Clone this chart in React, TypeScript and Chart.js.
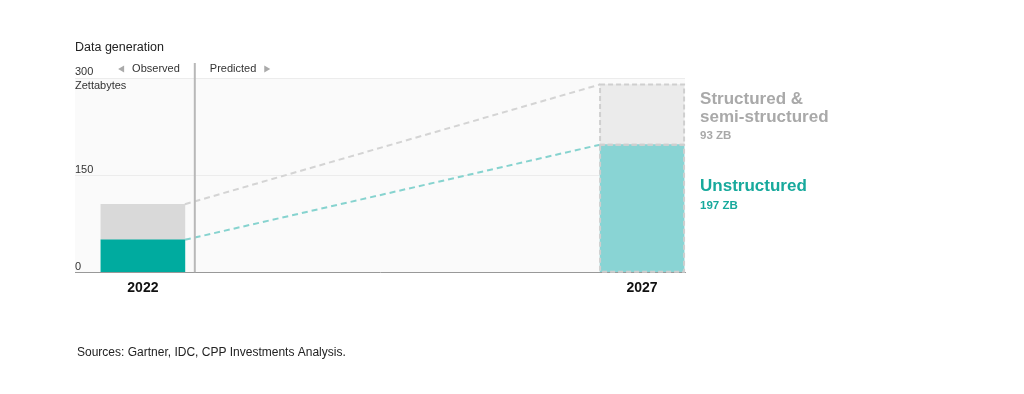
import React, { useEffect, useRef } from "react";
import { Chart, registerables } from "chart.js";

Chart.register(...registerables);

// ---- data ----
const years = [2022, 2027];
const unstructured = [50, 197];
const structured = [55, 93];
const yTickValues = [0, 150, 300];
const yUnit = "Zettabytes";
const dividerYear = 2022.52;
const titleText = "Data generation";
const sourceText = "Sources: Gartner, IDC, CPP Investments Analysis.";
const observedLabel = "Observed";
const predictedLabel = "Predicted";
const structuredName = ["Structured &", "semi-structured"];
const unstructuredName = ["Unstructured"];
const structuredValueLabel = "93 ZB";
const unstructuredValueLabel = "197 ZB";

// ---- styles ----
const FONT = "'Liberation Sans', Arial, Helvetica, sans-serif";
const tealColors = ["#00ab9f", "#89d4d4"];
const greyColors = ["#d9d9d9", "#ebebeb"];
const tealText = "#17a99c";
const greyText = "#a9a9a9";

const annotPlugin = {
  id: "annot",
  beforeDraw(chart: any) {
    const { ctx, chartArea: a } = chart;
    ctx.save();
    ctx.fillStyle = "#fafafa";
    ctx.fillRect(a.left, a.top, a.right - a.left, a.bottom - a.top);
    ctx.restore();
  },
  afterDatasetsDraw(chart: any) {
    const { ctx, chartArea: a, scales } = chart;
    const xs = scales.x;
    const ys = scales.y;
    const m0 = chart.getDatasetMeta(0);
    const m1 = chart.getDatasetMeta(1);
    ctx.save();
    // connectors
    const conns: [any, string][] = [
      [m0, "#86d3cf"],
      [m1, "#d4d4d4"],
    ];
    conns.forEach(([m, c]) => {
      const p = m.data[0].getProps(["x", "y", "width"], true);
      const q = m.data[1].getProps(["x", "y", "width"], true);
      ctx.beginPath();
      ctx.setLineDash([6, 4]);
      ctx.lineWidth = 2;
      ctx.strokeStyle = c;
      ctx.moveTo(p.x + p.width / 2, p.y);
      ctx.lineTo(q.x - q.width / 2, q.y);
      ctx.stroke();
    });
    // dashed outlines of predicted bars
    [m0, m1].forEach((m) => {
      const e = m.data[1].getProps(["x", "y", "width", "base"], true);
      ctx.beginPath();
      ctx.setLineDash([5, 3]);
      ctx.lineWidth = 2;
      ctx.strokeStyle = "#cfcfcf";
      ctx.strokeRect(e.x - e.width / 2, e.y, e.width, e.base - e.y);
    });
    ctx.setLineDash([]);
    // divider
    const dx = xs.getPixelForValue(dividerYear);
    ctx.beginPath();
    ctx.lineWidth = 2;
    ctx.strokeStyle = "#b8b8b8";
    ctx.moveTo(dx, a.top - 15);
    ctx.lineTo(dx, a.bottom);
    ctx.stroke();
    // observed / predicted
    const ly = a.top - 9;
    ctx.font = `11px ${FONT}`;
    ctx.textBaseline = "middle";
    ctx.fillStyle = "#333";
    ctx.textAlign = "right";
    const obsRight = dx - 15;
    ctx.fillText(observedLabel, obsRight, ly);
    const obsW = ctx.measureText(observedLabel).width;
    ctx.fillStyle = "#aaa";
    let tx = obsRight - obsW - 8;
    ctx.beginPath();
    ctx.moveTo(tx, ly - 3.5);
    ctx.lineTo(tx, ly + 3.5);
    ctx.lineTo(tx - 6, ly);
    ctx.closePath();
    ctx.fill();
    ctx.textAlign = "left";
    ctx.fillStyle = "#333";
    const predLeft = dx + 15;
    ctx.fillText(predictedLabel, predLeft, ly);
    const predW = ctx.measureText(predictedLabel).width;
    ctx.fillStyle = "#aaa";
    tx = predLeft + predW + 8;
    ctx.beginPath();
    ctx.moveTo(tx, ly - 3.5);
    ctx.lineTo(tx, ly + 3.5);
    ctx.lineTo(tx + 6, ly);
    ctx.closePath();
    ctx.fill();

    // series labels at the right of the predicted bar
    const last = years.length - 1;
    const eS = m1.data[last].getProps(["x", "y", "width"], true);
    const lx = eS.x + eS.width / 2 + 16;
    ctx.textAlign = "left";
    ctx.fillStyle = greyText;
    ctx.font = `bold 17px ${FONT}`;
    const sTop = ys.getPixelForValue(unstructured[last] + structured[last]);
    structuredName.forEach((s, i) => ctx.fillText(s, lx, sTop + 15 + i * 18));
    ctx.font = `bold 11.5px ${FONT}`;
    ctx.fillText(structuredValueLabel, lx, sTop + 15 + structuredName.length * 18);
    const uTop = ys.getPixelForValue(unstructured[last]);
    ctx.fillStyle = tealText;
    ctx.font = `bold 17px ${FONT}`;
    unstructuredName.forEach((s, i) => ctx.fillText(s, lx, uTop + 42 + i * 18));
    ctx.font = `bold 11.5px ${FONT}`;
    ctx.fillText(unstructuredValueLabel, lx, uTop + 42 + unstructuredName.length * 18 + 1);

    // title & source
    ctx.fillStyle = "#222";
    ctx.font = `12.5px ${FONT}`;
    ctx.fillText(titleText, a.left, 48);
    ctx.font = `12px ${FONT}`;
    ctx.fillText(sourceText, a.left + 2, 353);
    ctx.restore();
  },
};

export default function App() {
  const ref = useRef<HTMLCanvasElement>(null);
  useEffect(() => {
    if (!ref.current) return;
    const chart = new Chart(ref.current, {
      type: "bar",
      data: {
        datasets: [
          {
            label: "Unstructured",
            data: years.map((y, i) => ({ x: y, y: unstructured[i] })),
            backgroundColor: tealColors,
            barThickness: 84,
          },
          {
            label: "Structured & semi-structured",
            data: years.map((y, i) => ({ x: y, y: structured[i] })),
            backgroundColor: greyColors,
            barThickness: 84,
          },
        ],
      },
      plugins: [annotPlugin],
      options: {
        animation: false,
        responsive: false,
        layout: { padding: { left: 75, right: 339, top: 78, bottom: 89 } },
        plugins: { legend: { display: false }, tooltip: { enabled: false } },
        scales: {
          x: {
            type: "linear",
            stacked: true,
            offset: false,
            min: 2021.32,
            max: 2027.43,
            afterBuildTicks: (s: any) => {
              s.ticks = years.map((v) => ({ value: v }));
            },
            ticks: {
              color: "#111",
              font: { family: FONT, size: 14, weight: "bold" },
              padding: 8,
              maxRotation: 0,
              autoSkip: false,
              callback: (v: any) => String(v),
            },
            grid: { display: false, drawTicks: false, offset: false },
            border: { display: true, color: "#999", width: 1 },
          },
          y: {
            stacked: true,
            min: 0,
            max: 300,
            afterBuildTicks: (s: any) => {
              s.ticks = yTickValues.map((v) => ({ value: v }));
            },
            ticks: {
              mirror: true,
              padding: 0,
              labelOffset: 1,
              color: "#333",
              font: { family: FONT, size: 11, lineHeight: 1.2 },
              callback: (v: any) =>
                v === yTickValues[yTickValues.length - 1] ? [String(v), yUnit] : [String(v), ""],
            },
            grid: {
              drawTicks: false,
              color: (c: any) => (c.tick && c.tick.value === 0 ? "rgba(0,0,0,0)" : "#ececec"),
            },
            border: { display: false },
          },
        },
      },
    });
    return () => chart.destroy();
  }, []);
  return (
    <div style={{ position: "fixed", left: 0, top: 0, width: 1024, height: 394, background: "#fff" }}>
      <canvas ref={ref} width={1024} height={394} style={{ width: 1024, height: 394 }} />
    </div>
  );
}
